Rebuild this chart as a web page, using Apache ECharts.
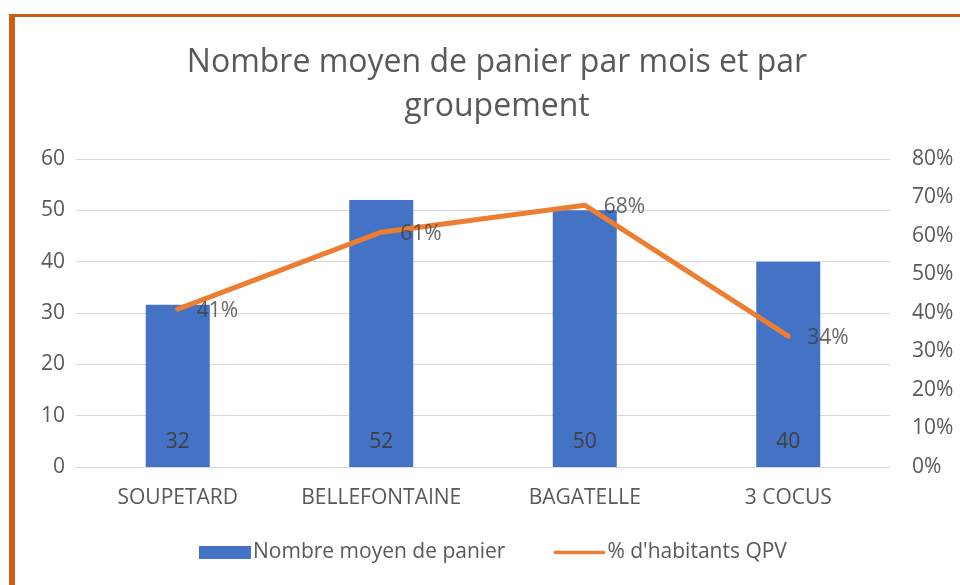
<!DOCTYPE html>
<html>
<head>
<meta charset="utf-8">
<script src="https://cdn.jsdelivr.net/npm/echarts@6/dist/echarts.min.js"></script>
<style>
html,body{margin:0;padding:0;background:#fff;}
#c{width:960px;height:585px;}
</style>
</head>
<body>
<div id="c"></div>
<script>
const categories = ['SOUPETARD', 'BELLEFONTAINE', 'BAGATELLE', '3 COCUS'];
const paniers = [31.6, 52, 50, 40];
const qpvPct = [41, 61, 68, 34];
const leftTicks = [0, 10, 20, 30, 40, 50, 60];
const rightTicks = [0, 10, 20, 30, 40, 50, 60, 70, 80];

const FONT = '"Open Sans", sans-serif';
const GREY = '#595959';

const chart = echarts.init(document.getElementById('c'));
chart.setOption({
  backgroundColor: '#ffffff',
  animation: false,
  textStyle: { fontFamily: FONT },
  title: {
    text: 'Nombre moyen de panier par mois et par\ngroupement',
    left: 492, top: 36, textAlign: 'center',
    textStyle: { fontFamily: FONT, fontSize: 32, fontWeight: 'normal', color: GREY, lineHeight: 44 }
  },
  graphic: [
    { type: 'rect', shape: { x: 9, y: 14, width: 960, height: 3 }, style: { fill: '#C95F12' } },
    { type: 'rect', shape: { x: 9, y: 14, width: 6, height: 600 }, style: { fill: '#C95F12' } }
  ],
  legend: {
    top: 537, left: 194, itemGap: 48,
    itemWidth: 52, itemHeight: 13,
    textStyle: { fontFamily: FONT, fontSize: 21, color: GREY, padding: [0, 0, 0, -3] },
    data: [
      { name: 'Nombre moyen de panier', icon: 'rect' },
      { name: "% d'habitants QPV", icon: 'path://M0,0 M1,4.5 L55,4.5 Q57,6.5 55,8.5 L1,8.5 Q-1,6.5 1,4.5 Z M56,13', itemStyle: { color: '#ED7D31' } }
    ]
  },
  grid: { left: 76, right: 70, top: 159, bottom: 118 },
  xAxis: {
    type: 'category', data: categories,
    axisLine: { lineStyle: { color: '#d9d9d9', width: 1 } },
    axisTick: { show: false },
    axisLabel: { fontFamily: FONT, fontSize: 21, color: GREY, margin: 21, interval: 0 }
  },
  yAxis: [
    {
      type: 'value', min: leftTicks[0], max: leftTicks[leftTicks.length - 1], interval: 10,
      axisLine: { show: false }, axisTick: { show: false },
      splitLine: { lineStyle: { color: '#d9d9d9', width: 1 } },
      axisLabel: { fontFamily: FONT, fontSize: 21, color: GREY, margin: 11 }
    },
    {
      type: 'value', min: rightTicks[0], max: rightTicks[rightTicks.length - 1], interval: 10,
      axisLine: { show: false }, axisTick: { show: false },
      splitLine: { show: false },
      axisLabel: { fontFamily: FONT, fontSize: 21, color: GREY, margin: 22, formatter: '{value}%' }
    }
  ],
  series: [
    {
      name: 'Nombre moyen de panier', type: 'bar', data: paniers,
      barWidth: 64,
      itemStyle: { color: '#4472C4' },
      label: {
        show: true, position: 'insideBottom', distance: 14,
        fontFamily: FONT, fontSize: 21, color: '#404040',
        formatter: p => Math.round(p.value)
      }
    },
    {
      name: "% d'habitants QPV", type: 'line', yAxisIndex: 1, data: qpvPct,
      symbol: 'none', smooth: false, z: 2,
      lineStyle: { color: '#ED7D31', width: 5, cap: 'round', join: 'round' },
      itemStyle: { color: '#ED7D31' }
    },
    {
      name: 'labels', type: 'scatter', yAxisIndex: 1, data: qpvPct,
      symbolSize: 0, silent: true, z: 5,
      itemStyle: { color: 'rgba(0,0,0,0)' },
      label: {
        show: true, position: 'right', distance: 19, offset: [0, 2],
        fontFamily: FONT, fontSize: 21, color: '#404040',
        formatter: p => p.value + '%'
      }
    }
  ]
});
</script>
</body>
</html>
